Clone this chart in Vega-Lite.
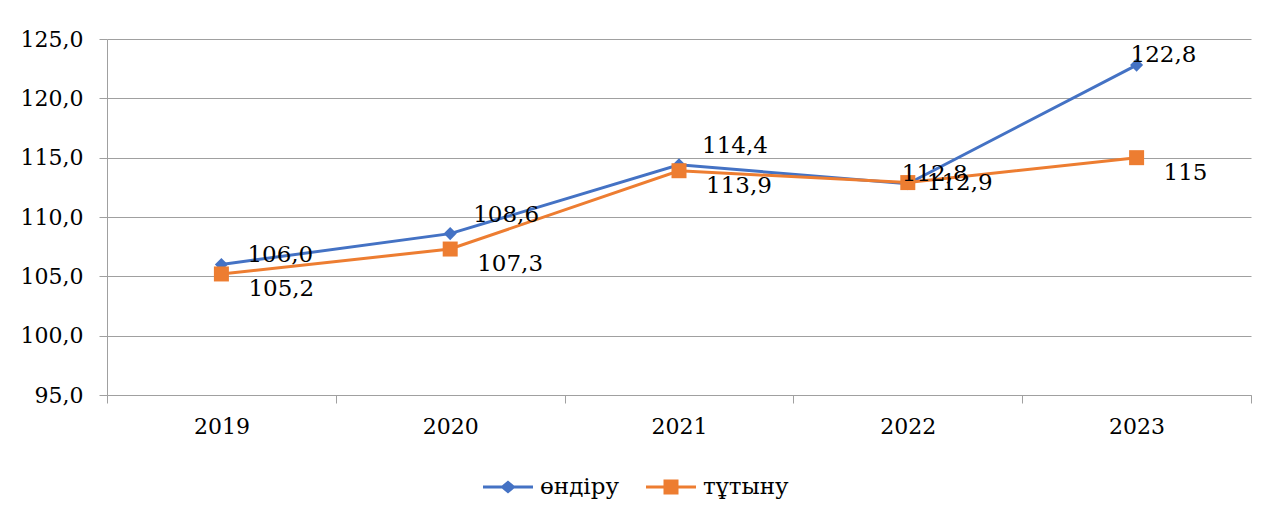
{
  "$schema": "https://vega.github.io/schema/vega-lite/v6.json",
  "width": 1144,
  "height": 356,
  "autosize": {"type": "none"},
  "padding": {"left": 107, "top": 39, "right": 21, "bottom": 126},
  "background": "white",
  "config": {
    "view": {"stroke": null},
    "font": "DejaVu Serif"
  },
  "data": {
    "values": [
      {"year": "2019", "series": "өндіру", "value": 106.0, "label": "106,0"},
      {"year": "2020", "series": "өндіру", "value": 108.6, "label": "108,6"},
      {"year": "2021", "series": "өндіру", "value": 114.4, "label": "114,4"},
      {"year": "2022", "series": "өндіру", "value": 112.8, "label": "112,8"},
      {"year": "2023", "series": "өндіру", "value": 122.8, "label": "122,8"},
      {"year": "2019", "series": "тұтыну", "value": 105.2, "label": "105,2"},
      {"year": "2020", "series": "тұтыну", "value": 107.3, "label": "107,3"},
      {"year": "2021", "series": "тұтыну", "value": 113.9, "label": "113,9"},
      {"year": "2022", "series": "тұтыну", "value": 112.9, "label": "112,9"},
      {"year": "2023", "series": "тұтыну", "value": 115, "label": "115"}
    ]
  },
  "encoding": {
    "x": {
      "field": "year", "type": "ordinal",
      "scale": {"type": "band", "paddingInner": 0, "paddingOuter": 0},
      "axis": {
        "title": null, "labelAngle": 0, "tickBand": "extent",
        "domainColor": "#A0A0A0", "tickColor": "#A0A0A0", "tickSize": 8,
        "labelFont": "DejaVu Serif", "labelFontSize": 22, "labelColor": "#000000",
        "labelPadding": 13, "grid": false
      }
    },
    "y": {
      "field": "value", "type": "quantitative",
      "scale": {"domain": [95, 125], "nice": false, "zero": false},
      "axis": {
        "title": null, "values": [95, 100, 105, 110, 115, 120, 125],
        "labelExpr": "replace(format(datum.value, '.1f'), '.', ',')",
        "domain": true, "domainColor": "#A0A0A0", "tickColor": "#A0A0A0", "tickSize": 8,
        "gridColor": "#A0A0A0", "grid": true,
        "labelFont": "DejaVu Serif", "labelFontSize": 22, "labelColor": "#000000",
        "labelPadding": 16
      }
    }
  },
  "layer": [
    {
      "mark": {"type": "line", "strokeWidth": 3},
      "encoding": {
        "color": {
          "field": "series", "type": "nominal",
          "scale": {"domain": ["өндіру", "тұтыну"], "range": ["#4472C4", "#ED7D31"]},
          "legend": {
            "orient": "none", "legendX": 376, "legendY": 423,
            "direction": "horizontal", "title": null,
            "symbolSize": 2500, "symbolStrokeWidth": 0,
            "labelFont": "DejaVu Serif", "labelFontSize": 23, "labelColor": "#000000",
            "labelOffset": 7, "columnPadding": 27,
            "encode": {
              "symbols": {
                "update": {
                  "shape": {"signal": "datum.value === 'өндіру' ? 'M-1,-0.06H-0.24L0,-0.26L0.24,-0.06H1V0.06H0.24L0,0.26L-0.24,0.06H-1Z' : 'M-1,-0.06H-0.3V-0.3H0.3V-0.06H1V0.06H0.3V0.3H-0.3V0.06H-1Z'"},
                  "size": {"value": 2500},
                  "fill": {"signal": "scale('color', datum.value)"},
                  "fillOpacity": {"value": 1},
                  "strokeWidth": {"value": 0}
                }
              }
            }
          }
        }
      }
    },
    {
      "transform": [{"filter": "datum.series === 'өндіру'"}],
      "mark": {"type": "point", "filled": true, "opacity": 1, "shape": "diamond", "size": 170},
      "encoding": {"color": {"field": "series", "type": "nominal"}}
    },
    {
      "transform": [{"filter": "datum.series === 'тұтыну'"}],
      "mark": {"type": "point", "filled": true, "opacity": 1, "shape": "square", "size": 225},
      "encoding": {"color": {"field": "series", "type": "nominal"}}
    },
    {
      "transform": [{"filter": "datum.series === 'өндіру' && datum.year === '2019'"}],
      "mark": {"type": "text", "align": "left", "baseline": "middle", "dx": 26, "dy": -9, "font": "DejaVu Serif", "fontSize": 23, "color": "#000000"},
      "encoding": {"text": {"field": "label"}}
    },
    {
      "transform": [{"filter": "datum.series === 'өндіру' && (datum.year === '2020' || datum.year === '2021')"}],
      "mark": {"type": "text", "align": "left", "baseline": "middle", "dx": 23, "dy": -19, "font": "DejaVu Serif", "fontSize": 23, "color": "#000000"},
      "encoding": {"text": {"field": "label"}}
    },
    {
      "transform": [{"filter": "datum.series === 'өндіру' && (datum.year === '2022' || datum.year === '2023')"}],
      "mark": {"type": "text", "align": "left", "baseline": "middle", "dx": -6, "dy": -10, "font": "DejaVu Serif", "fontSize": 23, "color": "#000000"},
      "encoding": {"text": {"field": "label"}}
    },
    {
      "transform": [{"filter": "datum.series === 'тұтыну' && datum.year !== '2022'"}],
      "mark": {"type": "text", "align": "left", "baseline": "middle", "dx": 27, "dy": 15, "font": "DejaVu Serif", "fontSize": 23, "color": "#000000"},
      "encoding": {"text": {"field": "label"}}
    },
    {
      "transform": [{"filter": "datum.series === 'тұтыну' && datum.year === '2022'"}],
      "mark": {"type": "text", "align": "left", "baseline": "middle", "dx": 19, "dy": 0, "font": "DejaVu Serif", "fontSize": 23, "color": "#000000"},
      "encoding": {"text": {"field": "label"}}
    }
  ]
}
